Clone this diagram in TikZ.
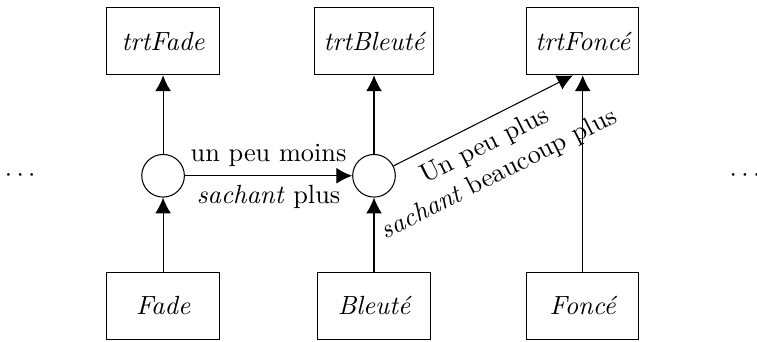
\documentclass[tikz,border=0pt]{standalone}
\usetikzlibrary{arrows.meta,calc}
\tikzset{
	boite/.style={draw, minimum width=1.5cm, minimum height=0.9cm, font=\itshape},
	rond/.style={draw, circle, minimum size=0.57cm, inner sep=0pt},
	fleche/.style={-{Latex[length=2.1mm,width=2.1mm]}}
}

\begin{document}
\begin{tikzpicture}
		%%%%% START %%%%%
		\useasboundingbox (0, 0) rectangle (10.12, 4.57);
		
		\node[boite] (tfade) at (2.18, 4.02) {trtFade};
		\node[boite] (tbleu) at (5.0, 4.02) {trtBleuté};
		\node[boite] (tfonc) at (7.79, 4.02) {trtFoncé};
		
		\node[rond] (cfade) at (2.18, 2.22) {};
		\node[rond] (cbleu) at (5.0, 2.22) {};
		
		\node[boite] (fade) at (2.18, 0.48) {Fade};
		\node[boite] (bleu) at (5.0, 0.48) {Bleuté};
		\node[boite] (fonc) at (7.79, 0.48) {Foncé};
		
		\node (gauche) at (0.27, 2.22) {$\cdots$};
		\node (droite) at (9.96, 2.22) {$\cdots$};
		
		\draw[fleche] (fade) -- (cfade);
		\draw[fleche] (cfade) -- (tfade);
		\draw[fleche] (bleu) -- (cbleu);
		\draw[fleche] (cbleu) -- (tbleu);
		\draw[fleche] (fonc) -- (tfonc);
		
		\draw[fleche] (cfade) -- (cbleu)
			node[midway, above] {un peu moins}
			node[midway, below] {\emph{sachant} plus};
		
		\coordinate (bout) at ($(tfonc.south)+(-0.13, 0)$);
		\draw[fleche] (cbleu) -- (bout)
			node[pos=0.45, below=0.12cm, sloped, align=center, inner sep=1pt] {Un peu plus\\\emph{sachant} beaucoup plus};
		%%%%% END %%%%%
	\end{tikzpicture}
\end{document}
